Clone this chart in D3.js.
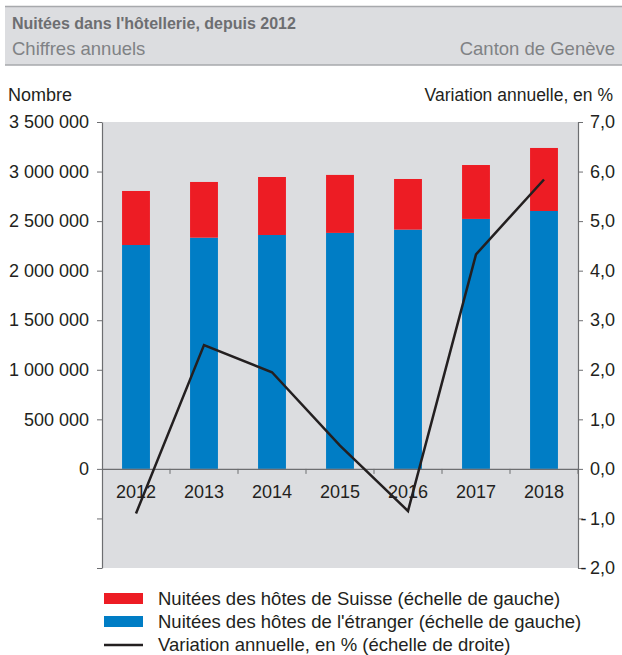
<!DOCTYPE html>
<html>
<head>
<meta charset="utf-8">
<script src="https://cdn.jsdelivr.net/npm/d3@7"></script>
<style>
  body { margin: 0; background: #fff; }
  svg { font-family: "Liberation Sans", Arial, sans-serif; }
</style>
</head>
<body>
<div id="chart"></div>
<script>
// data
const years = ["2012", "2013", "2014", "2015", "2016", "2017", "2018"];
const foreignNights = [2259000, 2333000, 2360000, 2381000, 2414000, 2522000, 2602000];
const swissNights = [545000, 562000, 585000, 585000, 511000, 544000, 636000];
const annualChange = [-0.9, 2.5, 1.95, 0.47, -0.85, 4.33, 5.84];
const leftTicks = [-1000000, -500000, 0, 500000, 1000000, 1500000, 2000000, 2500000, 3000000, 3500000];
const rightTicks = [-2, -1, 0, 1, 2, 3, 4, 5, 6, 7];

const W = 622, H = 655;
const plot = {left: 102, right: 578, top: 122, bottom: 568};
const red = "#ed1c24", blue = "#007dc5", ink = "#231f20", grey = "#dcdde0";
const fs = 18;

// swiss locale: space as thousands, comma as decimal
const loc = d3.formatLocale({thousands: "\u00a0", grouping: [3], decimal: ",", currency: ["", " CHF"]});
const fmtInt = loc.format(",d");
const fmtPct = loc.format(".1f");

const svg = d3.select("#chart").append("svg")
    .attr("width", W)
    .attr("height", H);

// header box
svg.append("rect")
    .attr("x", 5).attr("y", 6).attr("width", W - 5).attr("height", 59)
    .attr("fill", grey);
svg.append("line").attr("x1", 5).attr("x2", W).attr("y1", 6.5).attr("y2", 6.5)
    .attr("stroke", "#a7a9ac").attr("stroke-width", 1.5);
svg.append("line").attr("x1", 5).attr("x2", W).attr("y1", 65).attr("y2", 65)
    .attr("stroke", "#a7a9ac").attr("stroke-width", 1.5);
svg.append("text").attr("x", 12).attr("y", 29)
    .attr("font-size", 16).attr("font-weight", "bold").attr("fill", "#6d6e71")
    .text("Nuitées dans l'hôtellerie, depuis 2012");
svg.append("text").attr("x", 12).attr("y", 55)
    .attr("font-size", 18.5).attr("fill", "#808285")
    .text("Chiffres annuels");
svg.append("text").attr("x", 615).attr("y", 55).attr("text-anchor", "end")
    .attr("font-size", 18.5).attr("fill", "#808285")
    .text("Canton de Genève");

// plot background
svg.append("rect")
    .attr("x", plot.left).attr("y", plot.top)
    .attr("width", plot.right - plot.left).attr("height", plot.bottom - plot.top)
    .attr("fill", grey);

// scales
const x = d3.scaleBand().domain(years).range([plot.left, plot.right]).padding(0);
const yL = d3.scaleLinear().domain([-1000000, 3500000]).range([plot.bottom, plot.top]);
const yR = d3.scaleLinear().domain([-2, 7]).range([plot.bottom, plot.top]);
const barW = x.bandwidth() * 0.41;

// stacked bars
const stackData = years.map((y, i) => ({year: y, foreign: foreignNights[i], swiss: swissNights[i]}));
const series = d3.stack().keys(["foreign", "swiss"])(stackData);
const colors = {foreign: blue, swiss: red};

svg.append("g").selectAll("g")
    .data(series)
    .join("g")
    .attr("fill", d => colors[d.key])
    .selectAll("rect")
    .data(d => d)
    .join("rect")
    .attr("x", d => x(d.data.year) + (x.bandwidth() - barW) / 2)
    .attr("width", barW)
    .attr("y", d => yL(d[1]))
    .attr("height", d => yL(d[0]) - yL(d[1]));

// zero line with category ticks
const xAxis = svg.append("g")
    .attr("transform", `translate(0, ${yL(0)})`)
    .call(d3.axisBottom(x).tickSize(0).tickPadding(16));
xAxis.select(".domain").attr("stroke", "#6d6e71").attr("stroke-width", 1.2);
xAxis.selectAll("text").attr("font-size", fs).attr("fill", ink)
    .attr("font-family", "Liberation Sans, Arial, sans-serif");
xAxis.selectAll(".sep")
    .data(years.slice(1).concat(["end"]))
    .join("line")
    .attr("class", "sep")
    .attr("x1", (d, i) => plot.left + (i + 1) * x.step())
    .attr("x2", (d, i) => plot.left + (i + 1) * x.step())
    .attr("y1", 0).attr("y2", 5)
    .attr("stroke", "#6d6e71");

// left axis
const leftAxis = svg.append("g")
    .attr("transform", `translate(${plot.left}, 0)`)
    .call(d3.axisLeft(yL).tickValues(leftTicks).tickSize(5).tickPadding(8)
        .tickSizeOuter(0)
        .tickFormat(d => d >= 0 ? fmtInt(d) : ""));
leftAxis.select(".domain").attr("stroke", "#6d6e71").attr("stroke-width", 1.2);
leftAxis.selectAll(".tick line").attr("stroke", "#6d6e71");
leftAxis.selectAll("text").attr("font-size", fs).attr("fill", ink)
    .attr("font-family", "Liberation Sans, Arial, sans-serif");

// right axis
const rightAxis = svg.append("g")
    .attr("transform", `translate(${plot.right}, 0)`)
    .call(d3.axisRight(yR).tickValues(rightTicks).tickSize(5).tickPadding(6)
        .tickSizeOuter(0)
        .tickFormat(d => d < 0 ? "-\u2009" + fmtPct(-d) : fmtPct(d)));
rightAxis.select(".domain").attr("stroke", "#6d6e71").attr("stroke-width", 1.2);
rightAxis.selectAll(".tick line").attr("stroke", "#6d6e71");
rightAxis.selectAll("text").attr("font-size", fs).attr("fill", ink)
    .attr("text-anchor", "end").attr("x", 37)
    .attr("font-family", "Liberation Sans, Arial, sans-serif");

// axis titles
svg.append("text").attr("x", 8).attr("y", 101)
    .attr("font-size", fs).attr("fill", ink).text("Nombre");
svg.append("text").attr("x", 613).attr("y", 101).attr("text-anchor", "end")
    .attr("font-size", 17.5).attr("fill", ink).text("Variation annuelle, en %");

// annual change line
const line = d3.line()
    .x((d, i) => x(years[i]) + x.bandwidth() / 2)
    .y(d => yR(d));
svg.append("path")
    .datum(annualChange)
    .attr("d", line)
    .attr("fill", "none")
    .attr("stroke", ink)
    .attr("stroke-width", 2.5);

// legend
const legendItems = [
    {label: "Nuitées des hôtes de Suisse (échelle de gauche)", color: red, type: "rect"},
    {label: "Nuitées des hôtes de l'étranger (échelle de gauche)", color: blue, type: "rect"},
    {label: "Variation annuelle, en % (échelle de droite)", color: ink, type: "line"}
];
const legend = svg.append("g").attr("transform", "translate(104, 599)");
legendItems.forEach((item, i) => {
    const g = legend.append("g").attr("transform", `translate(0, ${i * 23})`);
    if (item.type === "rect") {
        g.append("rect").attr("x", 0).attr("y", -6).attr("width", 39).attr("height", 11)
            .attr("fill", item.color);
    } else {
        g.append("line").attr("x1", 0).attr("x2", 39).attr("y1", 0).attr("y2", 0)
            .attr("stroke", item.color).attr("stroke-width", 2.5);
    }
    g.append("text").attr("x", 54).attr("y", 6)
        .attr("font-size", 18.5).attr("fill", ink).text(item.label);
});
</script>
</body>
</html>
